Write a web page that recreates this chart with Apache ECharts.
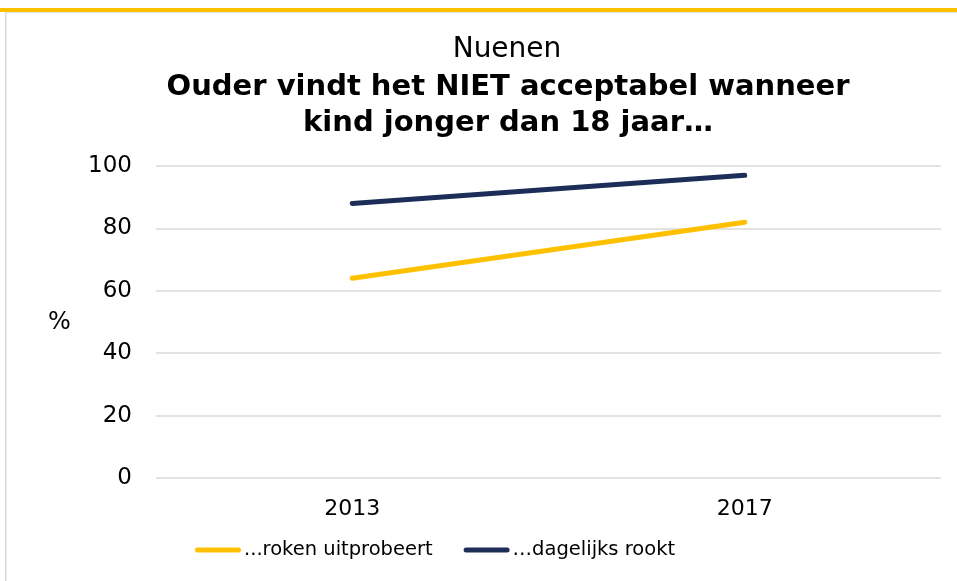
<!DOCTYPE html>
<html>
<head>
<meta charset="utf-8">
<script src="https://cdn.jsdelivr.net/npm/echarts@6/dist/echarts.min.js"></script>
<style>
  html, body { margin: 0; padding: 0; background: #fff; }
  #chart { width: 957px; height: 581px; }
</style>
</head>
<body>
<div id="chart"></div>
<script>
// Survey years (x axis)
const years = ['2013', '2017'];
// Share of parents (%) who find it NOT acceptable
const seriesNames = ['...roken uitprobeert', '\u2026dagelijks rookt'];
const rokenUitprobeert = [64, 82];
const dagelijksRookt = [88, 97];
// Y axis ticks
const yTicks = [0, 20, 40, 60, 80, 100];

const FONT = '"DejaVu Sans", Verdana, sans-serif';
const chart = echarts.init(document.getElementById('chart'));

chart.setOption({
  animation: false,
  backgroundColor: '#fff',
  textStyle: { fontFamily: FONT },
  title: [
    {
      text: 'Nuenen',
      left: 502,
      top: 31,
      textAlign: 'center',
      textStyle: { fontFamily: FONT, fontSize: 28, fontWeight: 'normal', color: '#000', lineHeight: 28 }
    },
    {
      text: 'Ouder vindt het NIET acceptabel wanneer\nkind jonger dan 18 jaar\u2026',
      left: 503,
      top: 64,
      textAlign: 'center',
      textStyle: { fontFamily: FONT, fontSize: 29, fontWeight: 'bold', color: '#000', lineHeight: 36, align: 'center' }
    }
  ],
  legend: {
    top: 535,
    left: 190,
    itemWidth: 46,
    itemHeight: 5,
    itemGap: 31,
    textStyle: { fontFamily: FONT, fontSize: 19.5, color: '#000', padding: [0, 0, 0, -2] },
    data: seriesNames.map(n => ({ name: n, icon: 'path://M2.5,0 L43.5,0 A2.5,2.5 0 0 1 43.5,5 L2.5,5 A2.5,2.5 0 0 1 2.5,0 Z' }))
  },
  grid: { left: 156, right: 16, top: 166, bottom: 103, containLabel: false },
  xAxis: {
    type: 'category',
    data: years,
    boundaryGap: true,
    axisLine: { show: false },
    axisTick: { show: false },
    axisLabel: { fontFamily: FONT, fontSize: 22, color: '#000', margin: 20 }
  },
  yAxis: {
    type: 'value',
    min: yTicks[0],
    max: yTicks[yTicks.length - 1],
    interval: 20,
    axisLine: { show: false },
    axisTick: { show: false },
    axisLabel: { fontFamily: FONT, fontSize: 23, color: '#000', margin: 24 },
    splitLine: { lineStyle: { color: '#d9d9d9', width: 1.5 } }
  },
  graphic: [
    { type: 'rect', shape: { x: 0, y: 8, width: 957, height: 4 }, style: { fill: '#FFC000' }, silent: true },
    { type: 'rect', shape: { x: 5, y: 12, width: 952, height: 1 }, style: { fill: '#e0e0e0' }, silent: true },
    { type: 'rect', shape: { x: 5, y: 12, width: 1.5, height: 569 }, style: { fill: '#d9d9d9' }, silent: true },
    { type: 'text', left: 48, top: 311, style: { text: '%', font: '24px ' + FONT, fill: '#000' }, silent: true }
  ],
  series: [
    {
      name: seriesNames[0],
      type: 'line',
      data: rokenUitprobeert,
      symbol: 'none',
      lineStyle: { color: '#FFC000', width: 5, cap: 'round' },
      itemStyle: { color: '#FFC000' }
    },
    {
      name: seriesNames[1],
      type: 'line',
      data: dagelijksRookt,
      symbol: 'none',
      lineStyle: { color: '#1C2D57', width: 5, cap: 'round' },
      itemStyle: { color: '#1C2D57' }
    }
  ]
});
</script>
</body>
</html>
